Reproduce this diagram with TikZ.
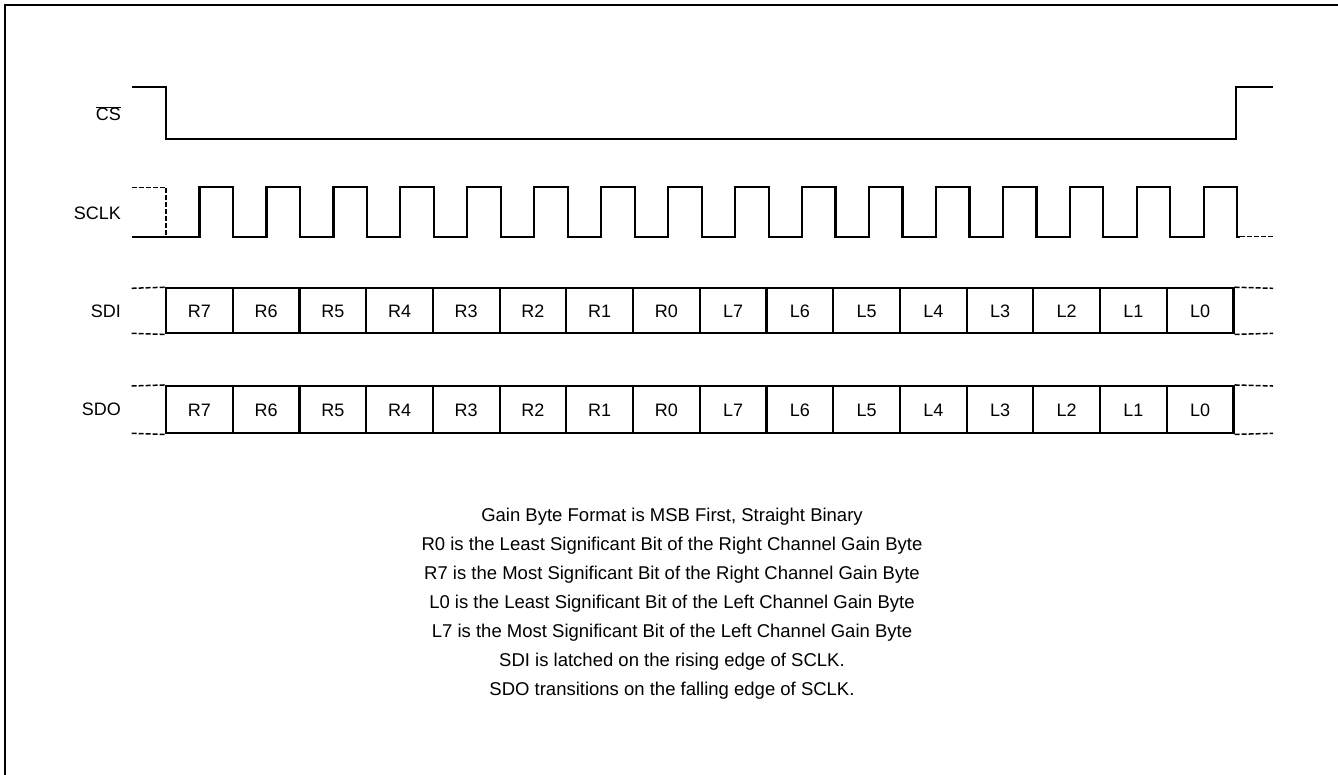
\documentclass[tikz,border=0pt]{standalone}
\usepackage{fontspec}
\setmainfont{Liberation Sans}
\begin{document}
\begin{tikzpicture}[x=1pt,y=-1pt,
  sig/.style={line width=2.2pt, line join=miter},
  dsh/.style={line width=1.5pt, dash pattern=on 5pt off 2pt},
  lbl/.style={anchor=east, inner sep=0pt, font=\fontsize{18}{22}\selectfont},
  cell/.style={draw, line width=2.2pt, minimum width=66.72pt, inner sep=0pt, text height=12.9pt, text depth=0pt, font=\fontsize{18}{22}\selectfont},
  note/.style={anchor=base, inner sep=0pt, font=\fontsize{18.5}{29}\selectfont}]
\useasboundingbox (0,0) rectangle (1338,774);
% frame
\draw[line width=2.6pt] (5,790) -- (5,5) -- (1350,5);
% labels
\node[lbl] (lcs) at (121,113.7) {$\overline{\mbox{CS}}$};
\node[lbl] (lsclk) at (121,213.3) {SCLK};
\node[lbl] (lsdi) at (121,310.8) {SDI};
\node[lbl] (lsdo) at (121,409.7) {SDO};
% CS
\draw[sig] (131.7,87.3) -- (166,87.3) -- (166,138.7) -- (1236,138.7) -- (1236,87.3) -- (1273,87.3);
% SCLK
\draw[dsh] (131.7,187.3) -- (166,187.3) -- (166,236.7);
\draw[sig] (131.7,236.7) foreach \k in {0,...,15} {
  -- ({199.5+66.95*\k},236.7) -- ({199.5+66.95*\k},187.3)
  -- ({233+66.95*\k},187.3) -- ({233+66.95*\k},236.7) } -- (1240,236.7);
\draw[dsh] (1240,236.7) -- (1273,236.7);
% SDI / SDO cells
\foreach \t [count=\i from 0] in {R7,R6,R5,R4,R3,R2,R1,R0,L7,L6,L5,L4,L3,L2,L1,L0} {
  \node[cell, minimum height=45pt] (sdi\i) at ({199.36+66.72*\i},310.8) {\t};
  \node[cell, minimum height=47.3pt] (sdo\i) at ({199.36+66.72*\i},409.7) {\t};
}
\draw[dsh] (131.7,288.3) -- (sdi0.north west);
\draw[dsh] (131.7,333.3) -- (sdi0.south west);
\draw[dsh] (sdi15.north east) -- (1273,288.3);
\draw[dsh] (sdi15.south east) -- (1273,333.3);
\draw[dsh] (131.7,386) -- (sdo0.north west);
\draw[dsh] (131.7,433.3) -- (sdo0.south west);
\draw[dsh] (sdo15.north east) -- (1273,386);
\draw[dsh] (sdo15.south east) -- (1273,433.3);
% notes
\node[note] (n1) at (672,521.7) {Gain Byte Format is MSB First, Straight Binary};
\node[note] (n2) at (672,550.7) {R0 is the Least Significant Bit of the Right Channel Gain Byte};
\node[note] (n3) at (672,579.7) {R7 is the Most Significant Bit of the Right Channel Gain Byte};
\node[note] (n4) at (672,608.7) {L0 is the Least Significant Bit of the Left Channel Gain Byte};
\node[note] (n5) at (672,637.7) {L7 is the Most Significant Bit of the Left Channel Gain Byte};
\node[note] (n6) at (672,666.7) {SDI is latched on the rising edge of SCLK.};
\node[note] (n7) at (672,695.7) {SDO transitions on the falling edge of SCLK.};
\end{tikzpicture}
\end{document}
